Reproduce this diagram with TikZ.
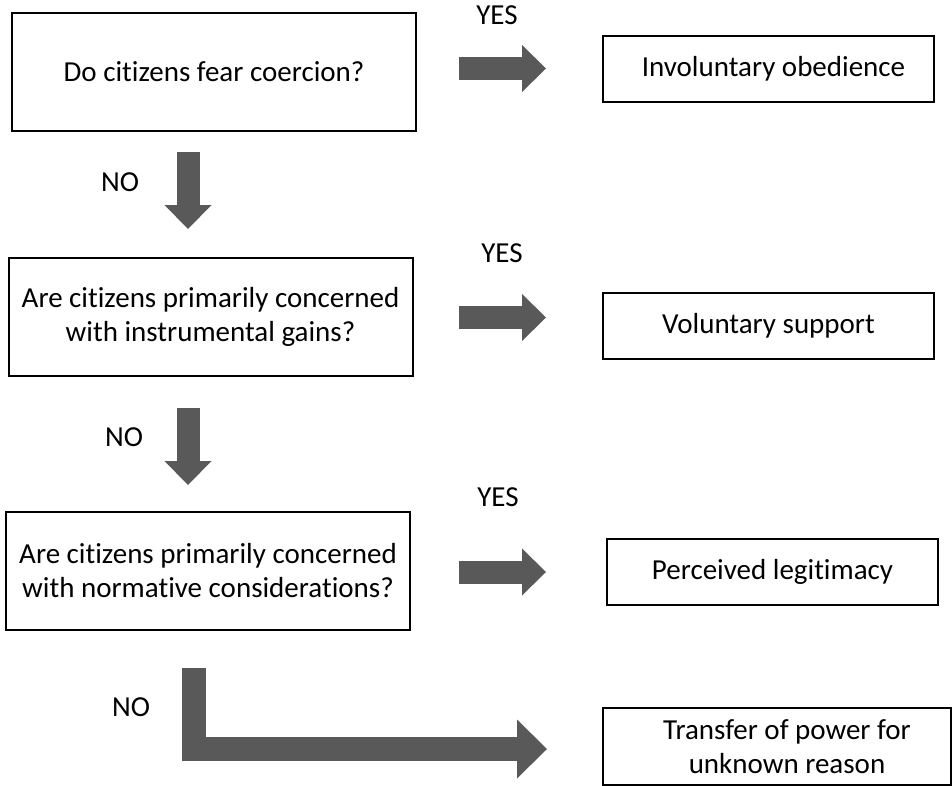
\documentclass[tikz,border=0pt]{standalone}
\usepackage{fontspec}
\setmainfont{Carlito}[Ligatures=NoCommon]
\usetikzlibrary{arrows.meta, positioning}
\definecolor{arrowgray}{HTML}{595959}
\tikzset{
    bigarrow/.style={draw=arrowgray, line width=23pt, line join=miter, -{Triangle[width=47pt,length=24pt,line width=0pt]}},
    box/.style={draw, rectangle, line width=2pt, fill=white, inner sep=0pt, align=center, font=\fontsize{29}{34}\selectfont},
    qbox/.style={box, minimum width=404pt, minimum height=118pt},
    abox/.style={box, minimum width=331pt, minimum height=66pt},
    lbl/.style={inner sep=0pt, font=\fontsize{29}{34}\selectfont}
}

\begin{document}
\begin{tikzpicture}[x=1pt, y=-1pt]
    \useasboundingbox (0,0) rectangle (952,785);
    % questions
    \node (fear) [qbox] at (214,72) {Do citizens fear coercion?};
    \node (gains) [qbox] at (210.5,317) {Are citizens primarily concerned\\with instrumental gains?};
    \node (norms) [qbox] at (208,571) {Are citizens primarily concerned\\with normative considerations?};
    % outcomes
    \node (invol) [abox] at (768.5,68.5) {\hspace{10pt}Involuntary obedience};
    \node (volun) [abox] at (768.5,326) {Voluntary support};
    \node (legit) [abox] at (772.5,571.5) {Perceived legitimacy};
    \node (unknown) [box, minimum width=348pt, minimum height=77pt] at (777,746.5) {\hspace{20pt}Transfer of power for\\\hspace{20pt}unknown reason};
    % labels
    \node (yes1) [lbl] at (497,15) {YES};
    \node (yes2) [lbl] at (502,253) {YES};
    \node (yes3) [lbl] at (498,497) {YES};
    \node (no1) [lbl] at (120,182) {NO};
    \node (no2) [lbl] at (124,437) {NO};
    \node (no3) [lbl] at (131,707) {NO};
    % arrow ends
    \coordinate (y1s) at (459,68.5);
    \coordinate (y1e) at (546,68.5);
    \coordinate (y2s) at (459,317.5);
    \coordinate (y2e) at (546,317.5);
    \coordinate (y3s) at (459,572);
    \coordinate (y3e) at (546,572);
    \coordinate (n1s) at (188,152);
    \coordinate (n1e) at (188,229);
    \coordinate (n2s) at (188,408);
    \coordinate (n2e) at (188,485);
    \coordinate (n3s) at (194,668);
    \coordinate (n3e) at (547,749);
    \draw [bigarrow] (y1s) -- (y1e);
    \draw [bigarrow] (y2s) -- (y2e);
    \draw [bigarrow] (y3s) -- (y3e);
    \draw [bigarrow] (n1s) -- (n1e);
    \draw [bigarrow] (n2s) -- (n2e);
    \draw [bigarrow, line width=24pt, -{Triangle[width=59pt,length=30pt,line width=0pt]}] (n3s) |- (n3e);
\end{tikzpicture}
\end{document}
